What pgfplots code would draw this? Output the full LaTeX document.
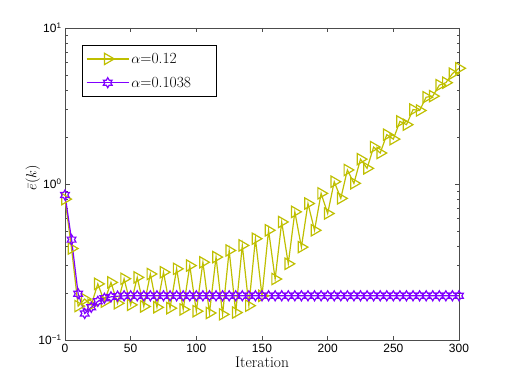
\documentclass[border=0pt]{standalone}
\usepackage{fontspec}
\usepackage{pgfplots}
\pgfplotsset{compat=1.18}
\usetikzlibrary{calc}
\newfontfamily\arial{Liberation Sans}
\definecolor{myyellow}{RGB}{191,191,0}
\definecolor{mypurple}{RGB}{128,0,255}

% six-pointed star outline, like MATLAB's hexagram
\pgfdeclareplotmark{hexagram}{%
  \pgfpathmoveto{\pgfqpointpolar{90}{\pgfplotmarksize}}%
  \pgfpathlineto{\pgfqpointpolar{120}{0.577\pgfplotmarksize}}%
  \pgfpathlineto{\pgfqpointpolar{150}{\pgfplotmarksize}}%
  \pgfpathlineto{\pgfqpointpolar{180}{0.577\pgfplotmarksize}}%
  \pgfpathlineto{\pgfqpointpolar{210}{\pgfplotmarksize}}%
  \pgfpathlineto{\pgfqpointpolar{240}{0.577\pgfplotmarksize}}%
  \pgfpathlineto{\pgfqpointpolar{270}{\pgfplotmarksize}}%
  \pgfpathlineto{\pgfqpointpolar{300}{0.577\pgfplotmarksize}}%
  \pgfpathlineto{\pgfqpointpolar{330}{\pgfplotmarksize}}%
  \pgfpathlineto{\pgfqpointpolar{0}{0.577\pgfplotmarksize}}%
  \pgfpathlineto{\pgfqpointpolar{30}{\pgfplotmarksize}}%
  \pgfpathlineto{\pgfqpointpolar{60}{0.577\pgfplotmarksize}}%
  \pgfpathclose
  \pgfusepathqstroke}

\begin{document}
\begin{tikzpicture}
\begin{axis}[
    scale only axis,
    width=394pt, height=312pt,
    ymode=log,
    xmin=0, xmax=300,
    ymin=0.1, ymax=10,
    xtick={0,50,...,300},
    ytick={0.1,1,10},
    yticklabels={10\textsuperscript{−1},10\textsuperscript{0},10\textsuperscript{1}},
    minor ytick={0.2,0.3,0.4,0.5,0.6,0.7,0.8,0.9,2,3,4,5,6,7,8,9},
    tick align=inside,
    major tick length=4.5pt,
    minor tick length=2.5pt,
    axis line style={black!70, line width=0.6pt},
    every tick/.style={black!70, line width=0.5pt},
    ticklabel style={font=\arial\fontsize{12}{14}\selectfont},
    /pgf/number format/assume math mode=true,
    xticklabel style={yshift=-1pt},
    xlabel={Iteration},
    ylabel={$\bar{e}(k)$},
    label style={font=\fontsize{15.5}{18}\selectfont},
    xlabel style={at={(axis description cs:0.5,-0.089)}, anchor=base},
    ylabel style={at={(axis description cs:-0.082,0.52)}, anchor=center},
    legend style={at={(axis description cs:0.043,0.946)}, anchor=north west,
        draw=black, fill=white,
        font=\fontsize{15.5}{18}\selectfont,
        row sep=8pt, inner xsep=4pt, inner ysep=6pt},
    legend cell align=left,
    legend image code/.code={
        \draw[mark repeat=2, mark phase=2, line width=1.2pt] plot coordinates {(0pt,0pt) (21pt,0pt) (42pt,0pt)};
    },
]
\addplot[color=myyellow, line width=1.2pt, mark=triangle,
    mark size=6.5pt, mark options={rotate=-90, solid}] coordinates {
(0,0.80) (5,0.386) (10,0.165) (15,0.183) (20,0.168) (25,0.229) (30,0.176)
(35,0.234) (40,0.172) (45,0.247) (50,0.168) (55,0.252) (60,0.164) (65,0.265)
(70,0.162) (75,0.272) (80,0.160) (85,0.286) (90,0.157) (95,0.300) (100,0.153)
(105,0.315) (110,0.149) (115,0.340) (120,0.146) (125,0.375) (130,0.150)
(135,0.404) (140,0.166) (145,0.446) (150,0.192) (155,0.505) (160,0.246)
(165,0.571) (170,0.308) (175,0.663) (180,0.394) (185,0.750) (190,0.505)
(195,0.871) (200,0.647) (205,1.035) (210,0.809) (215,1.23) (220,1.01)
(225,1.443) (230,1.26) (235,1.725) (240,1.58) (245,2.07) (250,1.94)
(255,2.52) (260,2.40) (265,3.00) (270,2.96) (275,3.60) (280,3.66)
(285,4.30) (290,4.46) (295,5.10) (300,5.52)
};
\addlegendentry{$\alpha$=0.12}
\addplot[color=mypurple, line width=1.2pt, mark=hexagram,
    mark size=5pt, mark options={solid}] coordinates {
(0,0.85) (5,0.44) (10,0.198) (15,0.148) (20,0.162) (25,0.177) (30,0.185)
(35,0.189) (40,0.191) (45,0.192) (50,0.192) (55,0.192) (60,0.192) (65,0.192)
(70,0.192) (75,0.192) (80,0.192) (85,0.192) (90,0.192) (95,0.192) (100,0.192)
(105,0.192) (110,0.192) (115,0.192) (120,0.192) (125,0.192) (130,0.192)
(135,0.192) (140,0.192) (145,0.192) (150,0.192) (155,0.192) (160,0.192)
(165,0.192) (170,0.192) (175,0.192) (180,0.192) (185,0.192) (190,0.192)
(195,0.192) (200,0.192) (205,0.192) (210,0.192) (215,0.192) (220,0.192)
(225,0.192) (230,0.192) (235,0.192) (240,0.192) (245,0.192) (250,0.192)
(255,0.192) (260,0.192) (265,0.192) (270,0.192) (275,0.192) (280,0.192)
(285,0.192) (290,0.192) (295,0.192) (300,0.192)
};
\addlegendentry{$\alpha$=0.1038\hspace*{19pt}}
\coordinate (sw) at (rel axis cs:0,0);
\coordinate (ne) at (rel axis cs:1,1);
\end{axis}
\pgfresetboundingbox
\path ($(sw)+(-65pt,-42pt)$) rectangle ($(ne)+(48pt,28pt)$);
\end{tikzpicture}
\end{document}
